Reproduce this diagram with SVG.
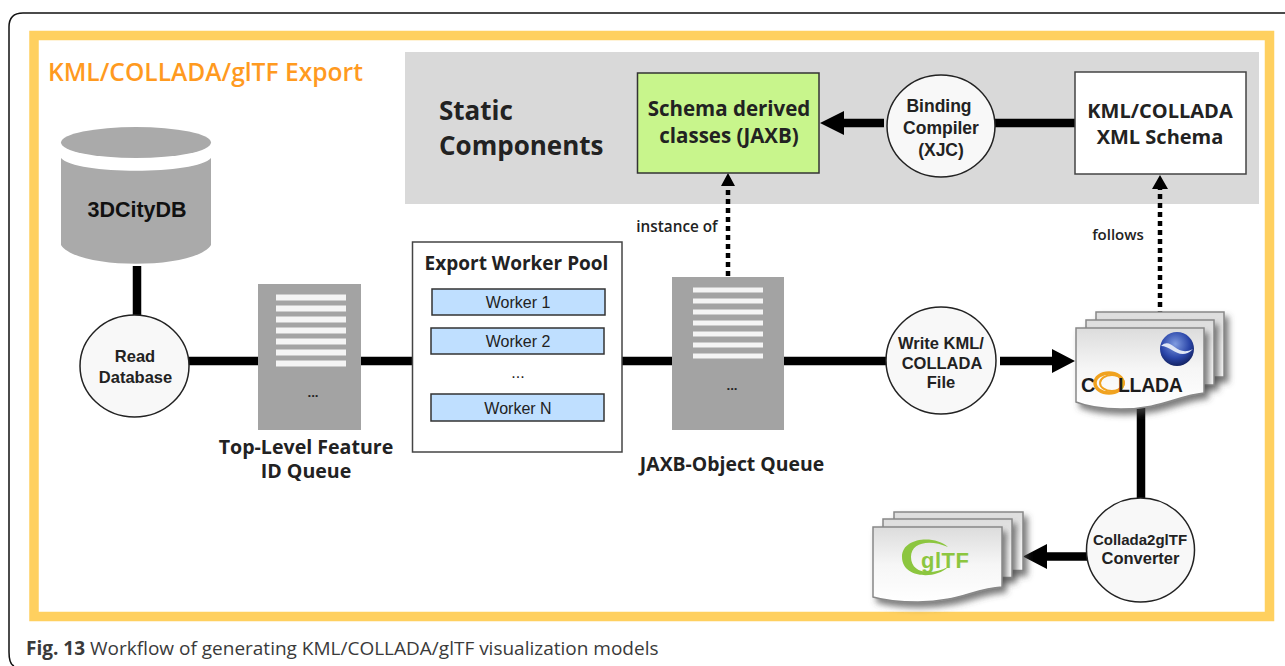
<svg xmlns="http://www.w3.org/2000/svg" width="1285" height="666" viewBox="0 0 1285 666">
<style>
text{font-family:"Open Sans","Noto Sans",sans-serif;fill:#222;text-anchor:middle;font-weight:600}
.ar{font-family:"Liberation Sans",Arial,sans-serif}
.b{font-weight:bold}
.c{font-family:"Liberation Sans",Arial,sans-serif;font-weight:bold;font-size:16.5px}
.w{font-family:"Liberation Sans",Arial,sans-serif;font-size:16px;font-weight:normal}
.circ{fill:#f8f8f8;stroke:#222;stroke-width:1.5}
.line{stroke:#000;stroke-width:8.5;fill:none}
.dot{stroke:#000;stroke-width:4.5;fill:none;stroke-dasharray:5 4}
.q{fill:#a3a3a3}
.qs{fill:#f4f4f4}
.wk{fill:#bfdfff;stroke:#333;stroke-width:1.5}
.pg{stroke:#888;stroke-width:1.5;fill:url(#pg);filter:url(#sh)}
</style>
<defs>
<linearGradient id="pg" x1="0" y1="0" x2="0" y2="1"><stop offset="0" stop-color="#dcdcdc"/><stop offset="0.5" stop-color="#f6f6f6"/><stop offset="1" stop-color="#fff"/></linearGradient>
<radialGradient id="gl" cx="0.45" cy="0.35" r="0.7"><stop offset="0" stop-color="#7f9be0"/><stop offset="0.6" stop-color="#2a45a8"/><stop offset="1" stop-color="#0f1c55"/></radialGradient>
<filter id="sh" x="-15%" y="-15%" width="135%" height="140%"><feDropShadow dx="4" dy="5" stdDeviation="3" flood-color="#444" flood-opacity=".7"/></filter>
<path id="sheet" d="M0 0H128V65C100 68 85 81 45 81C25 81 10 78 0 74Z"/>
<path id="back" d="M0 0H128V65H0Z"/>
<path id="sheet2" d="M0 0H129V60C100 62 85 75 45 75C25 75 10 73 0 70Z"/>
<path id="back2" d="M0 0H129V58.500H0Z"/>
</defs>
<path id="frame" d="M1285 13H23Q9 13 9 27V652Q9 664 14 666" fill="none" stroke="#111" stroke-width="1.5"/>
<rect id="border" x="34" y="35.5" width="1235.5" height="581" fill="none" stroke="#ffd05f" stroke-width="9.5"/>
<rect id="static-bg" x="405" y="52" width="854" height="152" fill="#d9d9d9"/>
<g id="connectors">
<path class="line" d="M137 266V320M189 361H887M1000 361H1053M995 123H1075M1141 400V500M1090 556.500H1045M884 123H842"/>
<path d="M1052 349L1075 361L1052 373ZM844 111L820 123L844 135ZM1047 544L1023 556.500L1047 569Z" fill="#000"/>
<path class="dot" d="M728 276V186"/>
<path class="dot" d="M1160 316V189"/>
<path d="M728 173L735 186H721ZM1160 175L1168 189H1152Z" fill="#000"/>
</g>
<text x="48" y="81" style="font-size:24.600px;text-anchor:start;fill:#ff9a1f">KML/COLLADA/glTF Export</text>
<text x="439" y="120" style="font-size:26px;text-anchor:start;font-weight:bold">Static</text>
<text x="439" y="155" style="font-size:26px;text-anchor:start;font-weight:bold">Components</text>
<g id="db">
<path style="fill:#aaa" d="M61 158C75 175 197 175 211 158V245C195 270 77 270 61 245Z"/>
<ellipse cx="136" cy="142.500" rx="75" ry="15.500" fill="#aaa"/>
<text class="ar b" x="137" y="217" style="font-size:21.500px;fill:#111">3DCityDB</text>
</g>
<g id="read-db"><ellipse class="circ" cx="134.500" cy="366" rx="54.500" ry="51"/><text class="c" x="135" y="362">Read</text><text class="c" x="135.500" y="383">Database</text></g>
<g id="tl-queue">
<rect class="q" x="258" y="284" width="103" height="146"/>
<rect class="qs" x="276" y="294.500" width="70" height="6"/><rect class="qs" x="276" y="305.500" width="70" height="6"/><rect class="qs" x="276" y="316.500" width="70" height="6"/><rect class="qs" x="276" y="327.500" width="70" height="6"/><rect class="qs" x="276" y="338.500" width="70" height="6"/><rect class="qs" x="276" y="349.500" width="70" height="6"/><rect class="qs" x="276" y="360.500" width="70" height="6"/>
<text x="313" y="397" style="font-size:13px" class="b">...</text>
<text style="font-size:19.600px;font-weight:bold"><tspan x="306" y="454">Top-Level Feature</tspan><tspan x="306" y="478">ID Queue</tspan></text>
</g>
<g id="pool">
<rect x="412.500" y="242" width="209.500" height="210" fill="#fff" stroke="#444" stroke-width="1.5"/>
<text x="516.500" y="270" style="font-size:19px;font-weight:bold">Export Worker Pool</text>
<rect class="wk" x="432" y="289" width="173" height="26"/><text class="w" x="518" y="308">Worker 1</text>
<rect class="wk" x="431" y="328" width="173" height="26"/><text class="w" x="518" y="347">Worker 2</text>
<text class="w" x="518" y="378">...</text>
<rect class="wk" x="431" y="394" width="173" height="27"/><text class="w" x="518" y="414">Worker N</text>
</g>
<g id="jaxb-queue">
<rect class="q" x="672" y="277" width="112" height="153"/>
<rect class="qs" x="693" y="287.500" width="70" height="5"/><rect class="qs" x="693" y="298.500" width="70" height="5"/><rect class="qs" x="693" y="309.500" width="70" height="5"/><rect class="qs" x="693" y="320.500" width="70" height="5"/><rect class="qs" x="693" y="331.500" width="70" height="5"/><rect class="qs" x="693" y="342.500" width="70" height="5"/><rect class="qs" x="693" y="353.500" width="70" height="5"/>
<text class="b" x="732" y="390" style="font-size:13px">...</text>
<text x="732" y="471" style="font-size:19.400px;font-weight:bold">JAXB-Object Queue</text>
</g>
<text x="677" y="232" style="font-size:15.300px">instance of</text>
<text x="1118" y="240" style="font-size:15px">follows</text>
<g id="schema-classes">
<rect x="637.500" y="73" width="181.500" height="100" fill="#c8f58c" stroke="#333" stroke-width="1.5"/>
<text x="729" y="116" style="font-size:20.500px;font-weight:bold">Schema derived</text><text x="729" y="143" style="font-size:20.500px;font-weight:bold">classes (JAXB)</text>
</g>
<g id="xjc"><ellipse class="circ" cx="941" cy="126" rx="54" ry="51"/><text class="c" x="939" y="112" style="font-size:17.500px">Binding</text><text class="c" x="941" y="134" style="font-size:17.500px">Compiler</text><text class="c" x="941" y="156" style="font-size:17.500px">(XJC)</text></g>
<g id="schema">
<rect x="1075" y="72" width="171" height="102" fill="#fff" stroke="#444" stroke-width="1.5"/>
<text x="1160" y="118" style="font-size:20px;font-weight:bold">KML/COLLADA</text><text x="1160" y="144" style="font-size:20px;font-weight:bold">XML Schema</text>
</g>
<g id="write"><ellipse class="circ" cx="941" cy="360.500" rx="55" ry="53.500"/><text class="c" x="941" y="349">Write KML/</text><text class="c" x="942" y="369">COLLADA</text><text class="c" x="941" y="388">File</text></g>
<g id="collada">
<use href="#back" class="pg" x="1096" y="312"/><use href="#back" class="pg" x="1086" y="320"/>
<use href="#sheet" class="pg" x="1076" y="328"/>
<circle cx="1177" cy="349" r="17" fill="url(#gl)"/>
<path d="M1161 346C1172 336 1176 358 1193 349C1180 362 1172 346 1161 346Z" fill="#dfe6f5"/>
<text class="ar b" x="1081" y="392" style="font-size:20px;text-anchor:start;fill:#1c1c1c">C</text>
<ellipse cx="1109" cy="383" rx="14" ry="10" fill="none" stroke="#f0a21f" stroke-width="3.500"/>
<ellipse cx="1112" cy="383" rx="12" ry="8" fill="none" stroke="#f0a21f" stroke-width="2"/>
<text class="ar b" x="1118" y="392" style="font-size:19.500px;text-anchor:start;letter-spacing:-0.300px;fill:#1c1c1c">LLADA</text>
</g>
<g id="converter"><ellipse class="circ" cx="1140.500" cy="550" rx="54" ry="52"/><text class="c" x="1140" y="545" style="font-size:15px">Collada2glTF</text><text class="c" x="1140.500" y="564">Converter</text></g>
<g id="gltf">
<use href="#back2" class="pg" x="894" y="512"/><use href="#back2" class="pg" x="883" y="519"/>
<use href="#sheet2" class="pg" x="873" y="527"/>
<path d="M948 547C935 535 902 537 902 557C902 578 935 580 948 567C930 576 911 573 911 557C911 542 930 539 948 547Z" fill="#8cc63f"/>
<text class="ar b" x="921" y="568" style="font-size:22px;text-anchor:start;fill:#8cc63f;letter-spacing:.5px">glTF</text>
</g>
<text x="26" y="655" style="font-size:19px;text-anchor:start;fill:#3a3a3a;font-weight:normal"><tspan font-weight="bold">Fig. 13</tspan> Workflow of generating KML/COLLADA/glTF visualization models</text>
</svg>
